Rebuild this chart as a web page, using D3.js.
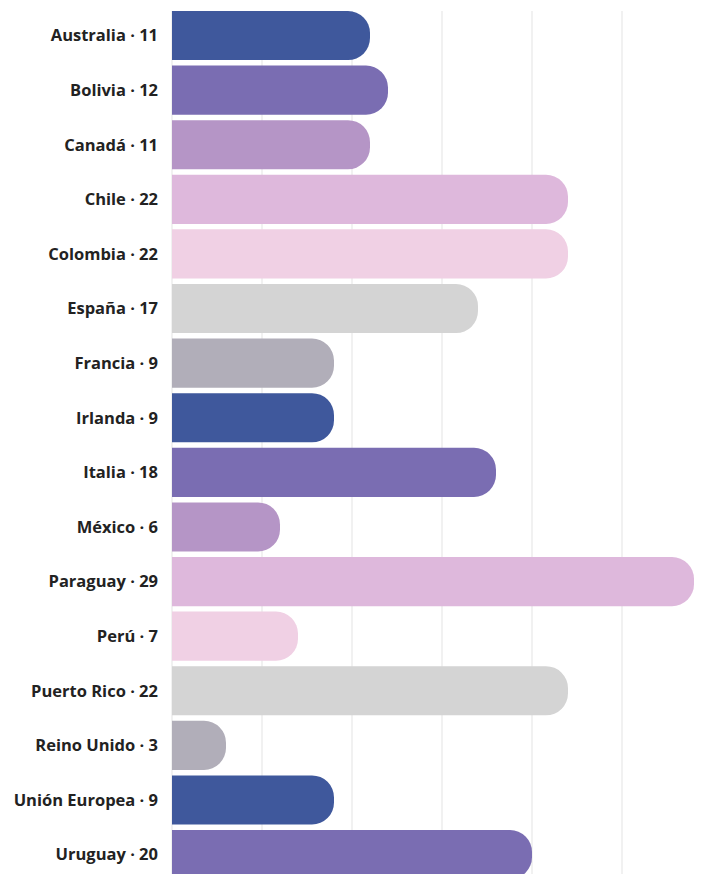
<!doctype html>
<html lang="es">
<head>
<meta charset="utf-8">
<script src="https://cdn.jsdelivr.net/npm/d3@7"></script>
<style>
  body { margin: 0; background: #fff; }
  svg text { font-family: "Open Sans", sans-serif; font-weight: 700; font-size: 16.5px; fill: #222; }
</style>
</head>
<body>
<div id="chart"></div>
<script>
// data
var countries = ["Australia", "Bolivia", "Canadá", "Chile", "Colombia", "España", "Francia", "Irlanda",
                 "Italia", "México", "Paraguay", "Perú", "Puerto Rico", "Reino Unido", "Unión Europea", "Uruguay"];
var values = [11, 12, 11, 22, 22, 17, 9, 9, 18, 6, 29, 7, 22, 3, 9, 20];
var gridTicks = [0, 5, 10, 15, 20, 25];
var palette = ["#3f589c", "#7a6db2", "#b595c6", "#deb8dc", "#f0d0e4", "#d4d4d4", "#b1aeb9"];

var width = 702, height = 874;
var left = 172, right = 694;

var svg = d3.select("#chart").append("svg")
    .attr("width", width)
    .attr("height", height);

var x = d3.scaleLinear()
    .domain([0, 29])
    .range([left, right]);

var y = d3.scaleBand()
    .domain(countries)
    .range([5.5, 884.6])
    .padding(0.1);

// vertical grid lines
svg.selectAll(".grid")
  .data(gridTicks)
  .enter()
  .append("line")
    .attr("x1", function(d) { return x(d); })
    .attr("x2", function(d) { return x(d); })
    .attr("y1", y(countries[0]))
    .attr("y2", height)
    .attr("stroke", "#e3e3e3")
    .attr("stroke-width", 1);

// bar with only the right end rounded
function barPath(d, i) {
  var x0 = x(0), x1 = x(values[i]);
  var y0 = y(d), h = y.bandwidth();
  var r = Math.min(22, h / 2, (x1 - x0) / 2);
  return "M" + x0 + "," + y0 +
         "H" + (x1 - r) +
         "A" + r + "," + r + " 0 0 1 " + x1 + "," + (y0 + r) +
         "V" + (y0 + h - r) +
         "A" + r + "," + r + " 0 0 1 " + (x1 - r) + "," + (y0 + h) +
         "H" + x0 + "Z";
}

svg.selectAll(".bar")
  .data(countries)
  .enter()
  .append("path")
    .attr("d", barPath)
    .attr("fill", function(d, i) { return palette[i % palette.length]; });

// labels
svg.selectAll(".label")
  .data(countries)
  .enter()
  .append("text")
    .attr("x", left - 14)
    .attr("y", function(d) { return y(d) + y.bandwidth() / 2; })
    .attr("dy", "0.35em")
    .attr("text-anchor", "end")
    .text(function(d, i) { return d + " · " + values[i]; });
</script>
</body>
</html>
